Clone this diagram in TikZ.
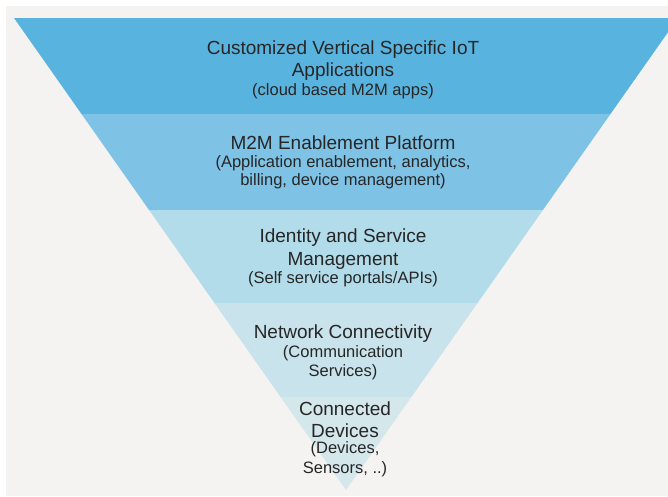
\documentclass[tikz,border=0pt]{standalone}
\usepackage{fontspec}
\setmainfont{Liberation Sans}
\usetikzlibrary{calc}
\definecolor{bgc}{HTML}{F4F3F1}
\definecolor{bandA}{HTML}{59B3DF}
\definecolor{bandB}{HTML}{7EC2E6}
\definecolor{bandC}{HTML}{B2DCEA}
\definecolor{bandD}{HTML}{C8E3EB}
\definecolor{bandE}{HTML}{D4E7EB}
\definecolor{txt}{HTML}{262626}
\tikzset{
  ttl/.style={anchor=base, inner sep=0pt, text=txt, font=\fontsize{19}{22}\selectfont},
  sub/.style={anchor=base, inner sep=0pt, text=txt, font=\fontsize{16.5}{19}\selectfont},
}
\begin{document}
\begin{tikzpicture}[x=1pt,y=-1pt]
\useasboundingbox (0,0) rectangle (668,496);
\fill[white] (0,0) rectangle (668,496);
\fill[bgc] (6,6) rectangle (668,496);
\begin{scope}
\clip (0,0) rectangle (668,496);
\coordinate (L) at (14,18);
\coordinate (R) at (678,18);
\coordinate (A) at (346,490);
\coordinate (L1) at ($(L)!0.2034!(A)$);
\coordinate (R1) at ($(R)!0.2034!(A)$);
\coordinate (L2) at ($(L)!0.4068!(A)$);
\coordinate (R2) at ($(R)!0.4068!(A)$);
\coordinate (L3) at ($(L)!0.6038!(A)$);
\coordinate (R3) at ($(R)!0.6038!(A)$);
\coordinate (L4) at ($(L)!0.8030!(A)$);
\coordinate (R4) at ($(R)!0.8030!(A)$);
\fill[bandA] (L) -- (R) -- (R1) -- (L1) -- cycle;
\fill[bandB] (L1) -- (R1) -- (R2) -- (L2) -- cycle;
\fill[bandC] (L2) -- (R2) -- (R3) -- (L3) -- cycle;
\fill[bandD] (L3) -- (R3) -- (R4) -- (L4) -- cycle;
\fill[bandE] (L4) -- (R4) -- (A) -- cycle;
\end{scope}
% band 1
\node[ttl] (a1) at (343,54) {Customized Vertical Specific IoT};
\node[ttl] (a2) at (343,76) {Applications};
\node[sub] (a3) at (343,95) {(cloud based M2M apps)};
% band 2
\node[ttl] (b1) at (343,149) {M2M Enablement Platform};
\node[sub] (b2) at (343,167) {(Application enablement, analytics,};
\node[sub] (b3) at (343,185) {billing, device management)};
% band 3
\node[ttl] (c1) at (343,242.5) {Identity and Service};
\node[ttl] (c2) at (343,265) {Management};
\node[sub] (c3) at (343,283) {(Self service portals/APIs)};
% band 4
\node[ttl] (d1) at (343,338.5) {Network Connectivity};
\node[sub] (d2) at (343,357) {(Communication};
\node[sub] (d3) at (343,376) {Services)};
% band 5
\node[ttl] (e1) at (345,415.5) {Connected};
\node[ttl] (e2) at (345,437.5) {Devices};
\node[sub] (e3) at (345,453.5) {(Devices,};
\node[sub] (e4) at (345,473.5) {Sensors, ..)};
\end{tikzpicture}
\end{document}
